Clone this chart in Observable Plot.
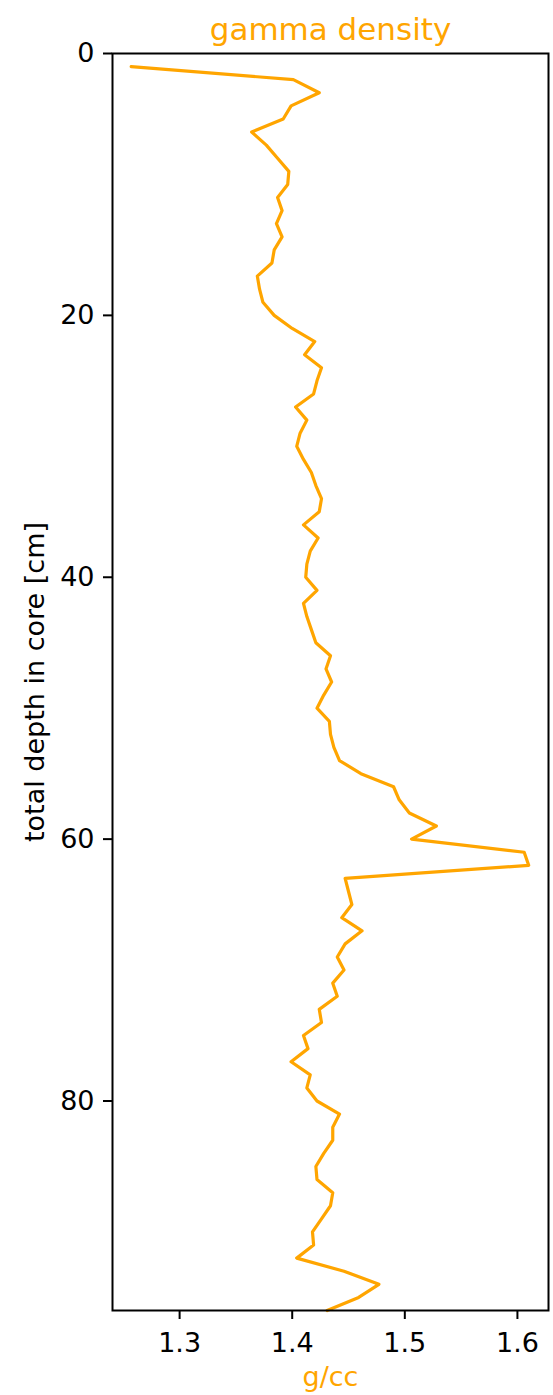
<!DOCTYPE html>
<html><head><meta charset="utf-8">
<script src="https://cdn.jsdelivr.net/npm/d3@7"></script>
<script src="https://cdn.jsdelivr.net/npm/@observablehq/plot@0.6"></script>
<style>body{margin:0;background:#fff}</style>
</head><body><div id="chart"></div>
<script>
const depth = [1,2,3,4,5,6,7,8,9,10,11,12,13,14,15,16,17,18,19,20,21,22,23,24,25,26,27,28,29,30,31,32,33,34,35,36,37,38,39,40,41,42,43,44,45,46,47,48,49,50,51,52,53,54,55,56,57,58,59,60,61,62,63,64,65,66,67,68,69,70,71,72,73,74,75,76,77,78,79,80,81,82,83,84,85,86,87,88,89,90,91,92,93,94,95,96];
const density = [1.257,1.401,1.424,1.399,1.392,1.364,1.377,1.387,1.397,1.396,
  1.387,1.391,1.386,1.391,1.384,1.382,1.369,1.371,1.374,1.384,
  1.400,1.420,1.411,1.426,1.422,1.419,1.403,1.413,1.407,1.404,
  1.410,1.417,1.421,1.426,1.424,1.410,1.423,1.416,1.413,1.412,
  1.422,1.410,1.413,1.417,1.421,1.434,1.430,1.435,1.428,1.422,
  1.433,1.434,1.437,1.442,1.461,1.490,1.495,1.504,1.528,1.506,
  1.606,1.610,1.447,1.450,1.453,1.444,1.462,1.447,1.440,1.446,
  1.436,1.440,1.424,1.426,1.410,1.414,1.399,1.416,1.413,1.422,
  1.442,1.436,1.436,1.428,1.421,1.422,1.436,1.434,1.426,1.418,
  1.419,1.404,1.446,1.477,1.459,1.431];
const xTicks = [1.3, 1.4, 1.5, 1.6];
const yTicks = [0, 20, 40, 60, 80];
const xDomain = [1.2404, 1.6276];
const yDomain = [0, 96];
const title = "gamma density";
const xLabel = "g/cc";
const yLabel = "total depth in core [cm]";
const orange = "#FFA500";

const data = depth.map((d, i) => ({depth: d, density: density[i]}));

const chart = Plot.plot({
  width: 553, height: 1395,
  marginTop: 53, marginBottom: 85, marginLeft: 112, marginRight: 5,
  style: {fontFamily: "DejaVu Sans", fontSize: "27px", color: "black", background: "white", overflow: "visible"},
  x: {domain: xDomain},
  y: {domain: yDomain, reverse: true},
  marks: [
    Plot.line(data, {x: "density", y: "depth", stroke: orange, strokeWidth: 3.2}),
    Plot.frame({stroke: "black", strokeWidth: 2}),
    Plot.axisX({ticks: xTicks, tickFormat: d => d.toFixed(1), tickSize: 9, tickPadding: 13, fontSize: 27, strokeWidth: 2, label: null}),
    Plot.axisY({ticks: yTicks, tickFormat: d => String(d), tickSize: 9, tickPadding: 9, fontSize: 27, strokeWidth: 2, label: null}),
    Plot.text([title], {text: d => d, frameAnchor: "top", dy: -14, lineAnchor: "bottom", textAnchor: "middle", fill: orange, fontSize: 31}),
    Plot.text([xLabel], {text: d => d, frameAnchor: "bottom", dy: 75, lineAnchor: "bottom", textAnchor: "middle", fill: orange, fontSize: 27}),
    Plot.text([yLabel], {text: d => d, frameAnchor: "left", dx: -77, rotate: -90, textAnchor: "middle", lineAnchor: "middle", fill: "black", fontSize: 27})
  ]
});
document.getElementById("chart").appendChild(chart);
</script>
</body></html>
